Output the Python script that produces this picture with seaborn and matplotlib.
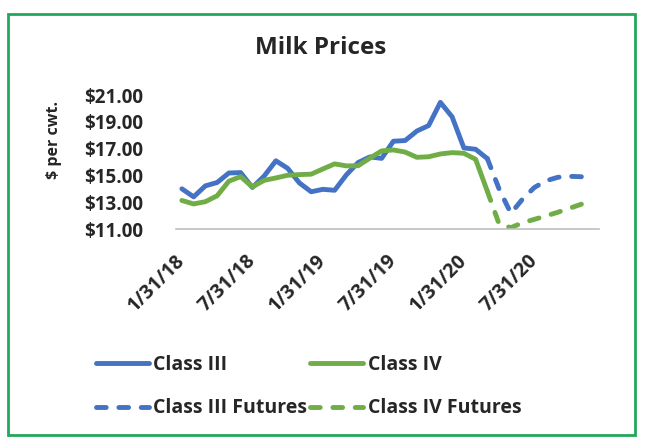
import numpy as np
import pandas as pd
import matplotlib.pyplot as plt
import seaborn as sns
from matplotlib.patches import Rectangle
from matplotlib.lines import Line2D

# monthly index, Jan 2018 .. Dec 2020
n_months = 36
tick_pos = [0, 6, 12, 18, 24, 30]
tick_labels = ['1/31/18', '7/31/18', '1/31/19', '7/31/19', '1/31/20', '7/31/20']

# actual prices, Jan 2018 .. Mar 2020
class_iii = [14.00, 13.40, 14.22, 14.47, 15.18, 15.21, 14.10, 14.95, 16.09, 15.53, 14.44, 13.78,
             13.96, 13.89, 15.04, 15.96, 16.38, 16.27, 17.55, 17.60, 18.31, 18.72, 20.45, 19.37,
             17.05, 16.95, 16.25]
class_iv = [13.13, 12.87, 13.04, 13.48, 14.57, 14.91, 14.14, 14.63, 14.81, 15.01, 15.06, 15.09,
            15.48, 15.86, 15.71, 15.72, 16.29, 16.83, 16.90, 16.74, 16.35, 16.39, 16.60, 16.70,
            16.65, 16.20, 13.81]

# futures, Mar 2020 onwards
fut_start = 26
class_iii_fut = [16.25, 13.98, 12.17, 13.24, 14.10, 14.60, 14.86, 14.93, 14.90, 14.80]
class_iv_fut = [13.81, 11.37, 11.10, 11.47, 11.72, 11.98, 12.25, 12.55, 12.85]

blue = '#4472C4'
green = '#70AD47'

series = {
	'Class III': (0, class_iii),
	'Class IV': (0, class_iv),
	'Class III Futures': (fut_start, class_iii_fut),
	'Class IV Futures': (fut_start, class_iv_fut),
}
rows = []
for name, (start, vals) in series.items():
	for i, v in enumerate(vals):
		rows.append({'month': start + i, 'price': v, 'series': name})
df = pd.DataFrame(rows)

sns.set_style('white')
plt.rcParams['font.family'] = ['Open Sans', 'DejaVu Sans']
plt.rcParams['font.weight'] = 'bold'

fig = plt.figure(figsize=(6.48, 4.42), dpi=100)
W, H = 648, 442
ax = fig.add_axes([176 / W, 1 - 229 / H, (599 - 176) / W, (229 - 95) / H])

dash = (0, (2.0, 2.6))
styles = {
	'Class III': (blue, '-'),
	'Class IV': (green, '-'),
	'Class III Futures': (blue, dash),
	'Class IV Futures': (green, dash),
}
lw = 3.5
for name, (col, ls) in styles.items():
	sub = df[df['series'] == name]
	sns.lineplot(data=sub, x='month', y='price', ax=ax, color=col, linewidth=lw,
				 linestyle=ls, legend=False)
for line in ax.lines:
	line.set_solid_capstyle('round')
	line.set_dash_capstyle('round')
	line.set_solid_joinstyle('round')

ax.set_xlim(-0.5, n_months - 0.5)
ax.set_ylim(11, 21)
ax.set_yticks([11, 13, 15, 17, 19, 21])
ax.set_yticklabels([f'${v:.2f}' for v in [11, 13, 15, 17, 19, 21]])
ax.set_xticks(tick_pos)
ax.set_xticklabels(tick_labels, rotation=45, ha='right', va='center', rotation_mode='anchor')
ax.tick_params(axis='y', length=0, pad=23.5, labelsize=13.5)
ax.tick_params(axis='x', length=0, pad=21, labelsize=14)
ax.set_xlabel('')
ax.set_ylabel('')
for s in ['top', 'right', 'left']:
	ax.spines[s].set_visible(False)
ax.spines['bottom'].set_color('#BFBFBF')
ax.spines['bottom'].set_linewidth(1.2)
ax.set_facecolor('white')

fig.text(321 / W, 1 - 48 / H, 'Milk Prices', ha='center', va='center', fontsize=17.5, fontweight='bold')
fig.text(54 / W, 1 - 140 / H, '$ per cwt.', ha='center', va='center', rotation=90,
		 fontsize=11.5, fontweight='bold')

handles = [
	Line2D([], [], color=blue, lw=lw, solid_capstyle='round'),
	Line2D([], [], color=blue, lw=lw, linestyle=dash, dash_capstyle='round'),
	Line2D([], [], color=green, lw=lw, solid_capstyle='round'),
	Line2D([], [], color=green, lw=lw, linestyle=dash, dash_capstyle='round'),
]
labels = ['Class III', 'Class III Futures', 'Class IV', 'Class IV Futures']
fig.legend(handles, labels, ncol=2, loc='upper left', bbox_to_anchor=(96 / W, 1 - 355 / H),
		   frameon=False, fontsize=14, handlelength=2.7, handletextpad=0.25,
		   columnspacing=0.15, labelspacing=1.2, borderpad=0, borderaxespad=0)

fig.patches.append(Rectangle((8 / W, 1 - 435 / H), (635 - 8) / W, (435 - 14) / H,
							 transform=fig.transFigure, fill=False, edgecolor='#22A85A',
							 linewidth=2))

fig.savefig('out.png', dpi=100, facecolor='white')
